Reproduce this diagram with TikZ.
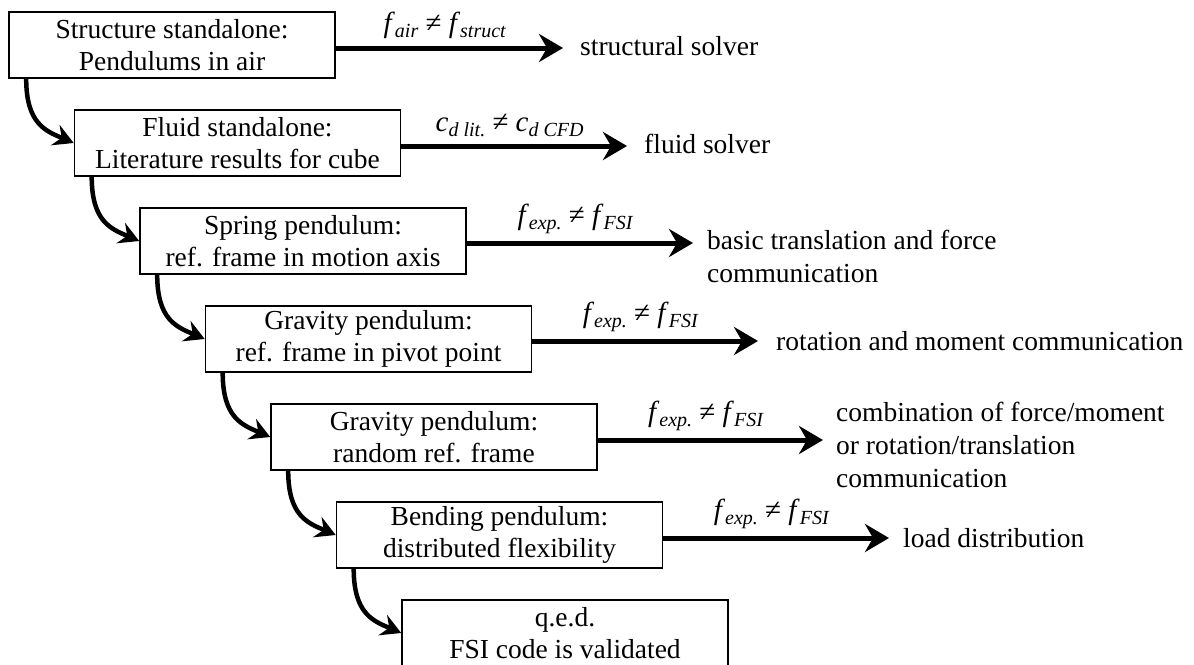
\documentclass[tikz,border=0pt]{standalone}
\usepackage{fontspec}
\setmainfont{Liberation Serif}
\usetikzlibrary{arrows.meta}
\newcommand{\fsym}[2]{\textit{#1}\raisebox{-5pt}{\fontsize{20}{20}\selectfont\textit{#2}}}
\begin{document}
\begin{tikzpicture}[x=1pt,y=-1pt,
 box/.style={draw, line width=1.6pt, minimum width=326pt, minimum height=66pt, inner sep=0pt, align=center, font=\fontsize{27.5}{32}\selectfont},
 res/.style={anchor=west, align=left, inner sep=0pt, font=\fontsize{27.5}{33}\selectfont},
 harr/.style={line width=5pt, -{Stealth[length=24pt,width=28pt,inset=8pt]}},
 carr/.style={line width=4.5pt, -{Stealth[length=20pt,width=22pt,inset=7pt]}},
 lab/.style={above=7pt, pos=0.48, font=\fontsize{29}{32}\selectfont, inner sep=0pt}]
\useasboundingbox (0,0) rectangle (1194,664);
\node[box] (b1) at (172,45) {Structure standalone:\\Pendulums in air};
\node[box] (b2) at (237.5,143) {Fluid standalone:\\Literature results for cube};
\node[box] (b3) at (303,241) {Spring pendulum:\\ref. frame in motion axis};
\node[box] (b4) at (368.5,339) {Gravity pendulum:\\ref. frame in pivot point};
\node[box] (b5) at (434,437) {Gravity pendulum:\\random ref. frame};
\node[box] (b6) at (499.5,535) {Bending pendulum:\\distributed flexibility};
\node[box] (b7) at (565,633) {q.e.d.\\FSI code is validated};

\coordinate (t1) at (563,48);
\coordinate (t2) at (627,146);
\coordinate (t3) at (693,243);
\coordinate (t4) at (758,341);
\coordinate (t5) at (823,440);
\coordinate (t6) at (889,538);

\draw[harr] (b1.east |- t1) -- (t1) node[lab] {\fsym{f}{air} ≠ \fsym{f}{struct}};
\draw[harr] (b2.east |- t2) -- (t2) node[lab] {\fsym{c}{d lit.} ≠ \fsym{c}{d CFD}};
\draw[harr] (b3.east |- t3) -- (t3) node[lab] {\fsym{f}{exp.} ≠ \fsym{f}{FSI}};
\draw[harr] (b4.east |- t4) -- (t4) node[lab] {\fsym{f}{exp.} ≠ \fsym{f}{FSI}};
\draw[harr] (b5.east |- t5) -- (t5) node[lab] {\fsym{f}{exp.} ≠ \fsym{f}{FSI}};
\draw[harr] (b6.east |- t6) -- (t6) node[lab] {\fsym{f}{exp.} ≠ \fsym{f}{FSI}};

\node[res] (r1) at (580,46) {structural solver};
\node[res] (r2) at (644,144) {fluid solver};
\node[res] (r3) at (707,256) {basic translation and force\\communication};
\node[res] (r4) at (776,341) {rotation and moment communication};
\node[res] (r5) at (836,445) {combination of force/moment\\or rotation/translation\\communication};
\node[res] (r6) at (903,538) {load distribution};

\draw[carr] ([xshift=18pt]b1.south west) .. controls +(0,45) and +(-28,-12) .. (b2.west);
\draw[carr] ([xshift=18pt]b2.south west) .. controls +(0,45) and +(-28,-12) .. (b3.west);
\draw[carr] ([xshift=18pt]b3.south west) .. controls +(0,45) and +(-28,-12) .. (b4.west);
\draw[carr] ([xshift=18pt]b4.south west) .. controls +(0,45) and +(-28,-12) .. (b5.west);
\draw[carr] ([xshift=18pt]b5.south west) .. controls +(0,45) and +(-28,-12) .. (b6.west);
\draw[carr] ([xshift=18pt]b6.south west) .. controls +(0,45) and +(-28,-12) .. (b7.west);
\end{tikzpicture}
\end{document}
